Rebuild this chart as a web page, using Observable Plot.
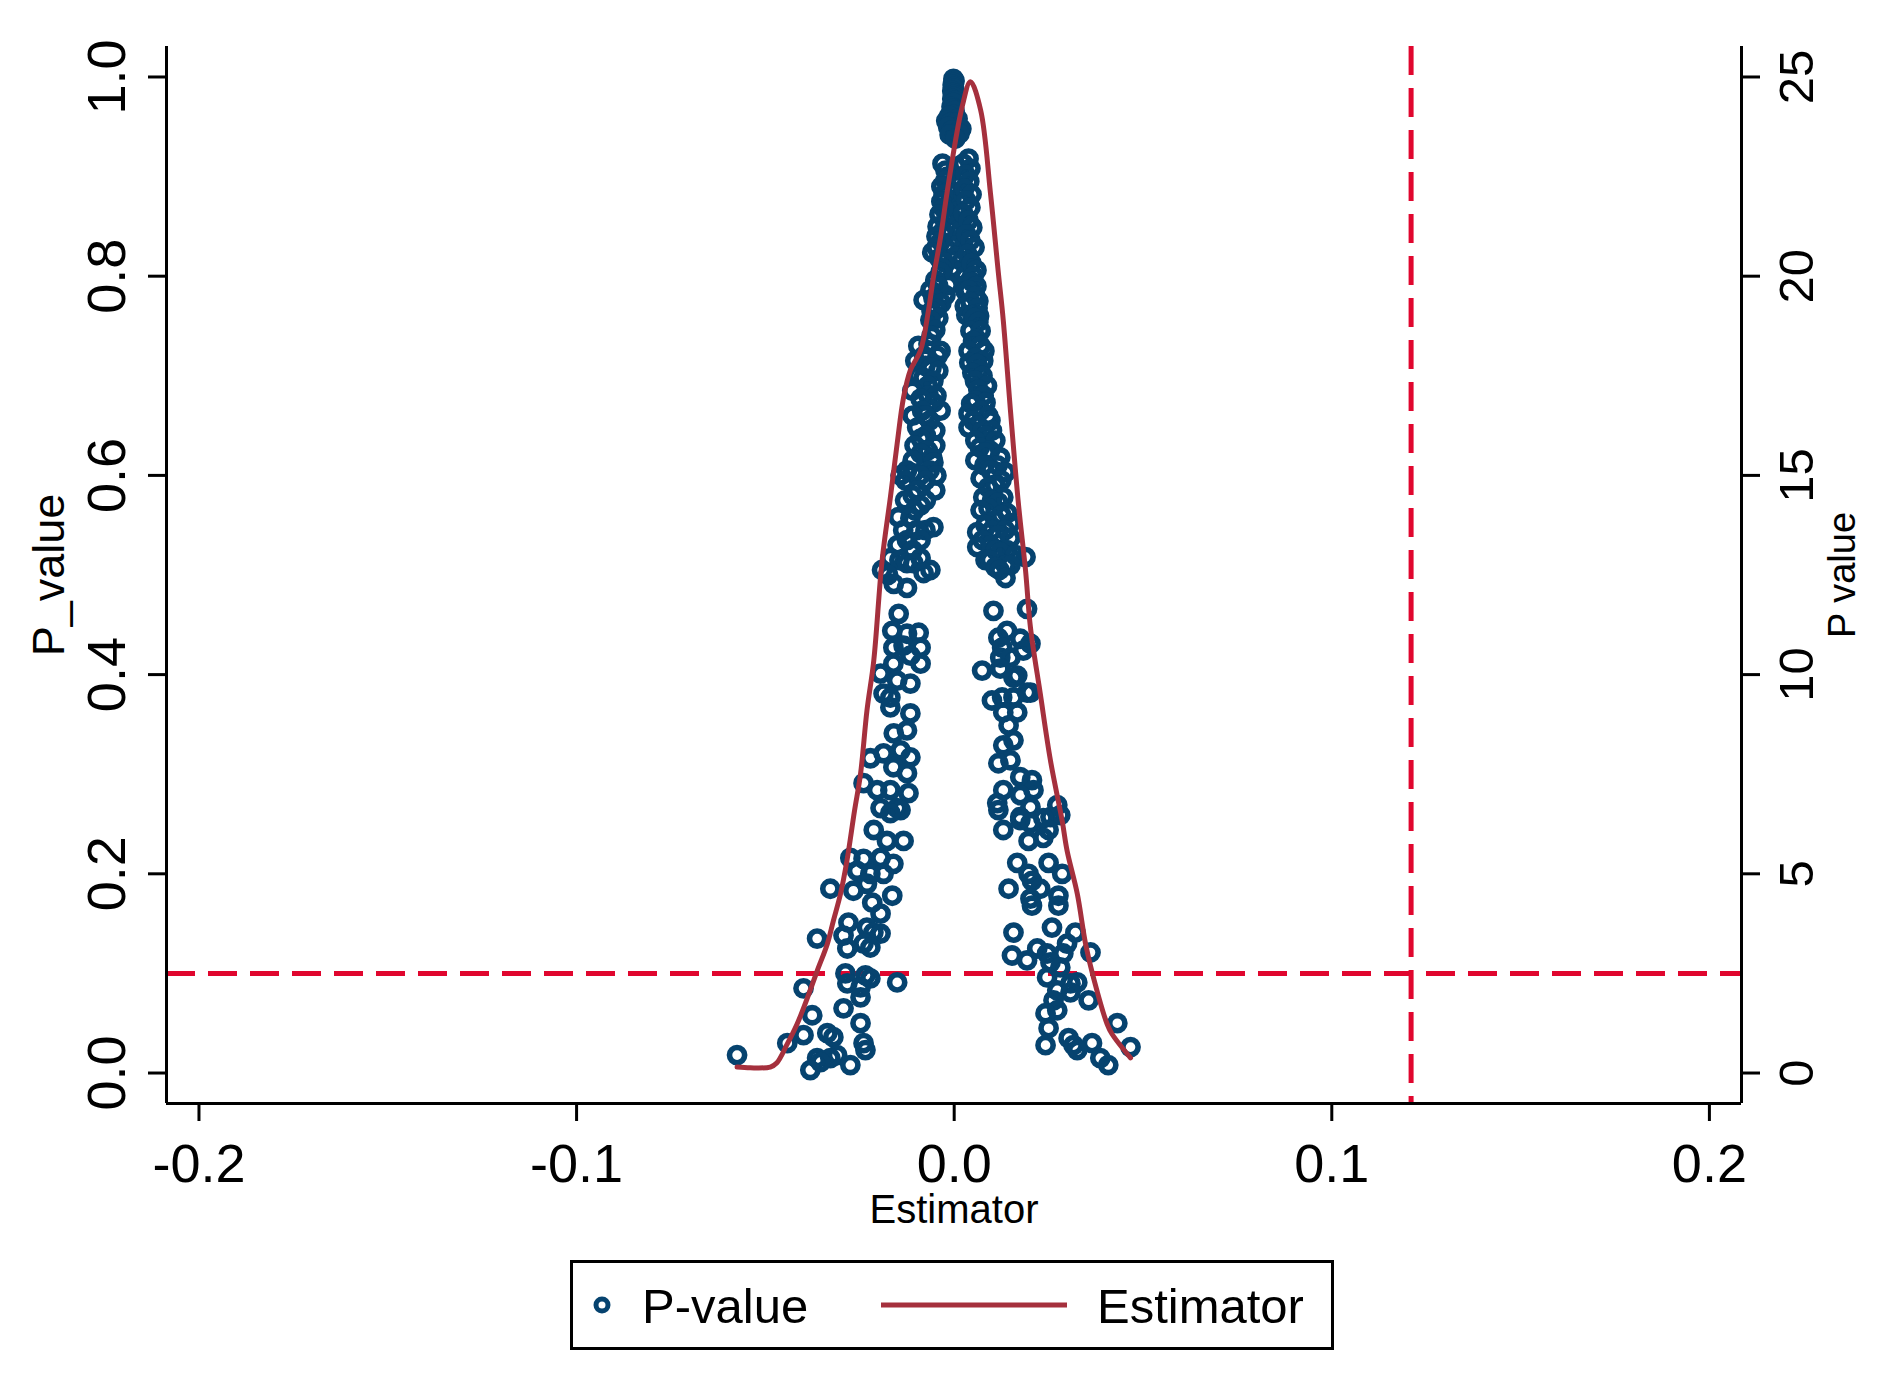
<!DOCTYPE html>
<html><head><meta charset="utf-8">
<script src="https://cdn.jsdelivr.net/npm/d3@7"></script>
<script src="https://cdn.jsdelivr.net/npm/@observablehq/plot@0.6"></script>
<style>
html,body{margin:0;padding:0;background:#fff;}
#wrap{position:relative;width:1886px;height:1386px;background:#fff;font-family:"Liberation Sans",Arial,sans-serif;}
#chart{position:absolute;left:0;top:0;}
#legend{position:absolute;left:570px;top:1260px;width:764px;height:90px;box-sizing:border-box;border:3px solid #000;background:#fff;}
</style>
</head><body>
<div id="wrap"><div id="chart"></div><div id="legend"></div></div>
<script>
// ---- data (estimator, p-value) ----
const peakPts = [
[-0.0002,0.998],[0.0001,0.996],[-0.0002,0.994],[-0.0004,0.992],[-0.0002,0.990],[0.0000,0.988],[-0.0005,0.986],[-0.0003,0.984],[-0.0002,0.982],[-0.0001,0.980],[-0.0005,0.978],[0.0002,0.976],[-0.0002,0.974],[-0.0007,0.970],[-0.0004,0.968],[0.0001,0.966],[-0.0001,0.962],[-0.0013,0.961],[0.0009,0.958],[-0.0021,0.956],[-0.0010,0.954],[0.0004,0.954],[0.0011,0.950],[-0.0016,0.950],[0.0019,0.948],[-0.0007,0.946],[0.0006,0.944],[0.0014,0.943],[-0.0012,0.942],[0.0003,0.938],
[0.0006,0.910],[0.0015,0.898],[-0.0018,0.900],[-0.0015,0.885],[0.0016,0.880],[-0.0012,0.873],[-0.0020,0.870],[0.0010,0.865],[-0.0010,0.861],[0.0020,0.855],[0.0003,0.851],[0.0016,0.845],[0.0011,0.836],[-0.0007,0.831],[0.0025,0.830],[0.0003,0.820],[0.0020,0.815],[-0.0005,0.808],[0.0009,0.804],[0.0028,0.800],[-0.0015,0.791],[0.0030,0.785],[-0.0023,0.781],[0.0028,0.770]
];
const leftArmPts = [
[-0.0031,0.913],[-0.0023,0.906],[-0.0023,0.896],[-0.0034,0.890],[-0.0028,0.882],[-0.0034,0.875],[-0.0028,0.868],[-0.0039,0.862],[-0.0044,0.850],[-0.0030,0.845],[-0.0047,0.840],[-0.0035,0.835],[-0.0047,0.829],[-0.0058,0.824],[-0.0040,0.818],[-0.0026,0.814],[-0.0032,0.808],[-0.0036,0.804],[-0.0050,0.796],[-0.0042,0.790],[-0.0063,0.786],[-0.0055,0.778],[-0.0081,0.776],[-0.0034,0.773],[-0.0047,0.767],[-0.0060,0.765],
[-0.0042,0.758],[-0.0063,0.756],[-0.0050,0.746],[-0.0060,0.740],[-0.0068,0.732],[-0.0095,0.730],[-0.0036,0.725],[-0.0044,0.720],[-0.0080,0.720],[-0.0103,0.715],[-0.0076,0.710],[-0.0060,0.708],[-0.0042,0.705],[-0.0095,0.700],[-0.0081,0.698],[-0.0055,0.695],[-0.0070,0.690],[-0.0111,0.685],[-0.0068,0.680],[-0.0047,0.680],[-0.0089,0.677],[-0.0055,0.673],[-0.0036,0.665],[-0.0085,0.665],[-0.0076,0.660],[-0.0110,0.660],[-0.0065,0.655],[-0.0098,0.648],[-0.0050,0.645],[-0.0075,0.640],[-0.0089,0.637],[-0.0050,0.630],[-0.0105,0.630],[-0.0070,0.625],[-0.0089,0.622],[-0.0058,0.618],[-0.0110,0.615],[-0.0055,0.613],[-0.0125,0.605],[-0.0065,0.605],[-0.0108,0.602],[-0.0047,0.600],[-0.0090,0.600],[-0.0142,0.600],[-0.0076,0.595],[-0.0129,0.595],[-0.0050,0.585],[-0.0098,0.585],[-0.0110,0.580],[-0.0130,0.575],[-0.0075,0.575],[-0.0089,0.570],[-0.0105,0.565],[-0.0148,0.558],[-0.0116,0.557],[-0.0055,0.548],[-0.0076,0.545],[-0.0135,0.545],[-0.0100,0.545],[-0.0125,0.535],[-0.0089,0.535],[-0.0150,0.530],[-0.0110,0.525],[-0.0169,0.517],[-0.0089,0.517],[-0.0145,0.515],[-0.0125,0.512],
[-0.0108,0.512],[-0.0063,0.505],[-0.0191,0.505],[-0.0081,0.502],[-0.0175,0.500],[-0.0160,0.491],[-0.0125,0.487],[-0.0147,0.461],[-0.0164,0.444],[-0.0094,0.442],[-0.0125,0.441],[-0.0134,0.429],[-0.0161,0.427],[-0.0089,0.427],[-0.0116,0.419],[-0.0089,0.411],[-0.0161,0.411],[-0.0195,0.401],[-0.0151,0.394],[-0.0116,0.391],[-0.0187,0.381],[-0.0169,0.377],[-0.0169,0.367],[-0.0116,0.361],[-0.0125,0.344],[-0.0160,0.341],[-0.0142,0.324],[-0.0187,0.321],[-0.0116,0.317],[-0.0222,0.316],[-0.0161,0.307],[-0.0125,0.301],[-0.0240,0.291],[-0.0204,0.284],[-0.0169,0.284],[-0.0121,0.281],[-0.0195,0.266],[-0.0151,0.266],
[-0.0142,0.264],[-0.0169,0.261],[-0.0213,0.244],[-0.0178,0.233],[-0.0134,0.233],[-0.0275,0.216],[-0.0195,0.216],[-0.0240,0.215],[-0.0161,0.210],[-0.0257,0.203],[-0.0222,0.200],[-0.0187,0.200],[-0.0231,0.190],[-0.0328,0.185],[-0.0267,0.183],[-0.0164,0.178],[-0.0217,0.171],[-0.0195,0.160],[-0.0280,0.151],[-0.0231,0.146],[-0.0214,0.141],[-0.0195,0.140],[-0.0293,0.138],[-0.0363,0.135],[-0.0240,0.130],[-0.0222,0.126],[-0.0283,0.125],[-0.0288,0.100],[-0.0235,0.098],[-0.0222,0.095],[-0.0151,0.091],[-0.0283,0.090],[-0.0248,0.086],[-0.0399,0.085],[-0.0248,0.076],[-0.0293,0.065],[-0.0376,0.058],[-0.0248,0.050],[-0.0336,0.040],[-0.0399,0.038],[-0.0320,0.036],[-0.0442,0.030],[-0.0240,0.030],[-0.0235,0.023],[-0.0575,0.018],[-0.0310,0.018],[-0.0363,0.015],[-0.0328,0.015],[-0.0354,0.011],[-0.0275,0.008],[-0.0381,0.003]
];
const rightArmPts = [
[0.0038,0.918],[0.0024,0.913],[0.0043,0.908],[0.0030,0.902],[0.0040,0.895],[0.0027,0.888],[0.0046,0.882],[0.0032,0.876],[0.0043,0.869],[0.0024,0.863],[0.0038,0.856],[0.0048,0.849],[0.0032,0.842],[0.0043,0.836],[0.0054,0.829],[0.0035,0.822],[0.0046,0.813],[0.0059,0.806],[0.0051,0.800],[0.0048,0.794],[0.0059,0.790],[0.0038,0.786],[0.0056,0.780],[0.0064,0.775],[0.0043,0.774],[0.0062,0.768],[0.0032,0.761],[0.0048,0.761],[0.0066,0.760],[0.0054,0.758],
[0.0064,0.754],[0.0043,0.745],[0.0070,0.745],[0.0059,0.737],[0.0050,0.735],[0.0070,0.730],[0.0038,0.725],[0.0080,0.725],[0.0056,0.718],[0.0077,0.715],[0.0040,0.713],[0.0061,0.712],[0.0066,0.706],[0.0048,0.703],[0.0075,0.700],[0.0055,0.695],[0.0087,0.690],[0.0064,0.686],[0.0078,0.680],
[0.0056,0.675],[0.0083,0.673],[0.0045,0.672],[0.0070,0.665],[0.0038,0.662],[0.0090,0.660],[0.0096,0.655],[0.0050,0.655],[0.0064,0.650],[0.0038,0.648],[0.0075,0.645],[0.0100,0.645],[0.0083,0.640],[0.0056,0.635],[0.0109,0.635],[0.0068,0.628],[0.0095,0.625],[0.0083,0.623],[0.0122,0.618],[0.0056,0.615],[0.0115,0.610],[0.0080,0.610],[0.0096,0.605],[0.0136,0.603],[0.0070,0.597],[0.0125,0.595],[0.0109,0.590],[0.0090,0.588],[0.0077,0.578],[0.0130,0.578],[0.0100,0.575],[0.0117,0.573],[0.0091,0.567],[0.0070,0.565],[0.0141,0.562],[0.0125,0.560],[0.0109,0.555],[0.0149,0.552],[0.0083,0.550],[0.0100,0.545],[0.0135,0.545],[0.0061,0.543],[0.0117,0.540],[0.0149,0.537],[0.0075,0.535],[0.0096,0.530],[0.0061,0.528],[0.0110,0.525],[0.0140,0.525],[0.0122,0.523],[0.0162,0.520],[0.0189,0.518],[0.0083,0.515],[0.0095,0.515],[0.0136,0.510],[0.0149,0.510],[0.0109,0.508],[0.0120,0.505],[0.0136,0.497],
[0.0193,0.466],[0.0104,0.464],[0.0140,0.444],[0.0117,0.437],[0.0175,0.436],[0.0202,0.431],[0.0127,0.427],[0.0183,0.424],[0.0122,0.417],[0.0149,0.417],[0.0122,0.406],[0.0074,0.404],[0.0167,0.399],[0.0157,0.397],[0.0193,0.382],[0.0202,0.382],[0.0127,0.377],[0.0157,0.377],[0.0100,0.374],[0.0130,0.362],[0.0167,0.362],[0.0144,0.349],[0.0157,0.334],[0.0130,0.329],[0.0149,0.314],[0.0117,0.311],[0.0175,0.297],[0.0206,0.294],[0.0130,0.284],[0.0210,0.284],[0.0175,0.279],[0.0114,0.271],[0.0273,0.269],[0.0202,0.267],[0.0117,0.264],[0.0175,0.257],[0.0255,0.257],
[0.0281,0.259],[0.0236,0.256],[0.0175,0.254],[0.0202,0.251],[0.0130,0.244],[0.0250,0.244],[0.0236,0.236],[0.0197,0.233],[0.0167,0.211],[0.0250,0.211],[0.0286,0.200],[0.0197,0.200],[0.0206,0.193],[0.0144,0.185],[0.0228,0.185],[0.0276,0.178],[0.0202,0.175],[0.0206,0.168],[0.0276,0.168],[0.0259,0.146],[0.0157,0.141],[0.0321,0.141],[0.0299,0.130],[0.0220,0.125],[0.0361,0.121],[0.0246,0.120],[0.0289,0.120],[0.0153,0.118],[0.0193,0.113],[0.0255,0.111],[0.0281,0.106],[0.0246,0.096],[0.0326,0.091],[0.0308,0.090],[0.0273,0.083],[0.0308,0.081],[0.0356,0.073],[0.0263,0.073],[0.0273,0.063],[0.0242,0.060],[0.0432,0.050],[0.0250,0.045],[0.0303,0.035],[0.0365,0.030],[0.0242,0.028],[0.0316,0.028],[0.0467,0.026],[0.0326,0.023],[0.0387,0.015],[0.0408,0.008]
];
// kernel density of the estimator (right axis)
const densityEst = [-0.0575,-0.0540,-0.0487,-0.0470,-0.0442,-0.0416,-0.0389,-0.0363,-0.0336,-0.0320,-0.0301,-0.0284,-0.0264,-0.0248,-0.0231,-0.0213,-0.0191,-0.0169,-0.0151,-0.0134,-0.0116,-0.0089,-0.0068,-0.0055,-0.0036,-0.0019,0.0021,0.0043,0.0070,0.0096,0.0117,0.0130,0.0149,0.0170,0.0189,0.0202,0.0228,0.0255,0.0286,0.0299,0.0326,0.0348,0.0369,0.0405,0.0418,0.0467];
const densityVal = [0.15,0.13,0.15,0.25,0.73,1.23,1.88,2.56,3.24,3.82,4.50,5.33,6.58,7.51,9.10,10.35,12.86,14.45,15.80,16.96,17.64,18.14,19.15,19.97,20.98,22.09,24.25,24.88,24.17,22.09,20.08,18.89,16.63,14.30,12.61,11.18,9.52,7.84,6.33,5.58,4.50,3.24,2.39,1.23,0.98,0.38];

const xTicks = [-0.2,-0.1,0,0.1,0.2];
const yTicks = [0,0.2,0.4,0.6,0.8,1.0];
const y2Ticks = [0,5,10,15,20,25];
const y2Max = 25;
const pLine = 0.1;
const estLine = 0.121;
const xDomain = [-0.2086, 0.2085];
const yDomain = [-0.0306, 1.0306];

const NAVY = "#06436f", MAROON = "#a5303d", RED = "#e0062e";
const FONT = "Liberation Sans, Arial, sans-serif";

const dots = [...peakPts, ...leftArmPts, ...rightArmPts].map(([e, p]) => ({e, p}));
const dens = densityEst.map((x, i) => ({x, d: densityVal[i]}));

const chart = Plot.plot({
  width: 1886, height: 1250,
  marginLeft: 166, marginRight: 145, marginTop: 46, marginBottom: 147,
  x: {domain: xDomain, label: null},
  y: {domain: yDomain, label: null},
  style: {fontFamily: FONT, background: "#fff", color: "#000", overflow: "visible"},
  marks: [
    Plot.ruleY([pLine], {stroke: RED, strokeWidth: 5, strokeDasharray: "29,13"}),
    Plot.ruleX([estLine], {stroke: RED, strokeWidth: 5, strokeDasharray: "29,13"}),
    Plot.dot(dots, {x: "e", y: "p", r: 7.6, stroke: NAVY, strokeWidth: 5.6, fill: "none"}),
    Plot.line(dens, {x: "x", y: d => d.d / y2Max, stroke: MAROON, strokeWidth: 5, curve: "catmull-rom"}),
    // axis lines
    Plot.ruleX([xDomain[0], xDomain[1]], {stroke: "#000", strokeWidth: 3}),
    Plot.ruleY([yDomain[0]], {stroke: "#000", strokeWidth: 3}),
    // ticks
    Plot.axisX(xTicks, {anchor: "bottom", tickSize: 18, strokeWidth: 3, tickFormat: () => "", label: null}),
    Plot.axisY(yTicks, {anchor: "left", tickSize: 18, strokeWidth: 3, tickFormat: () => "", label: null}),
    Plot.axisY(y2Ticks.map(d => d / y2Max), {anchor: "right", tickSize: 18, strokeWidth: 3, tickFormat: () => "", label: null}),
    // tick labels
    Plot.text(xTicks, {x: d => d, frameAnchor: "bottom", dy: 61, text: d => d.toFixed(1), fontSize: 54, lineAnchor: "middle", fill: "#000"}),
    Plot.text(yTicks, {y: d => d, frameAnchor: "left", dx: -59, rotate: -90, text: d => d.toFixed(1), fontSize: 54, textAnchor: "middle", lineAnchor: "middle", fill: "#000"}),
    Plot.text(y2Ticks, {y: d => d / y2Max, frameAnchor: "right", dx: 56, rotate: -90, text: d => String(d), fontSize: 49, textAnchor: "middle", lineAnchor: "middle", fill: "#000"}),
    // axis titles
    Plot.text(["Estimator"], {frameAnchor: "bottom", dy: 107, text: d => d, fontSize: 40, lineAnchor: "middle", fill: "#000"}),
    Plot.text(["P_value"], {frameAnchor: "left", dx: -117, rotate: -90, text: d => d, fontSize: 45, textAnchor: "middle", lineAnchor: "middle", fill: "#000"}),
    Plot.text(["P value"], {frameAnchor: "right", dx: 101, rotate: -90, text: d => d, fontSize: 38, textAnchor: "middle", lineAnchor: "middle", fill: "#000"})
  ]
});
document.getElementById("chart").appendChild(chart);

// legend
const legendItems = [
  {label: "P-value", kind: "dot", color: NAVY},
  {label: "Estimator", kind: "line", color: MAROON}
];
const lg = d3.select("#legend").append("svg").attr("width", 758).attr("height", 84)
  .style("position", "absolute").style("left", "0px").style("top", "0px")
  .style("font-family", FONT);
lg.append("circle").attr("cx", 29).attr("cy", 42).attr("r", 6).attr("fill", "none")
  .attr("stroke", legendItems[0].color).attr("stroke-width", 5);
lg.append("text").attr("x", 69).attr("y", 60).attr("font-size", 49).text(legendItems[0].label);
lg.append("line").attr("x1", 308).attr("x2", 494).attr("y1", 42).attr("y2", 42)
  .attr("stroke", legendItems[1].color).attr("stroke-width", 5);
lg.append("text").attr("x", 524).attr("y", 60).attr("font-size", 49).text(legendItems[1].label);
</script>
</body></html>
